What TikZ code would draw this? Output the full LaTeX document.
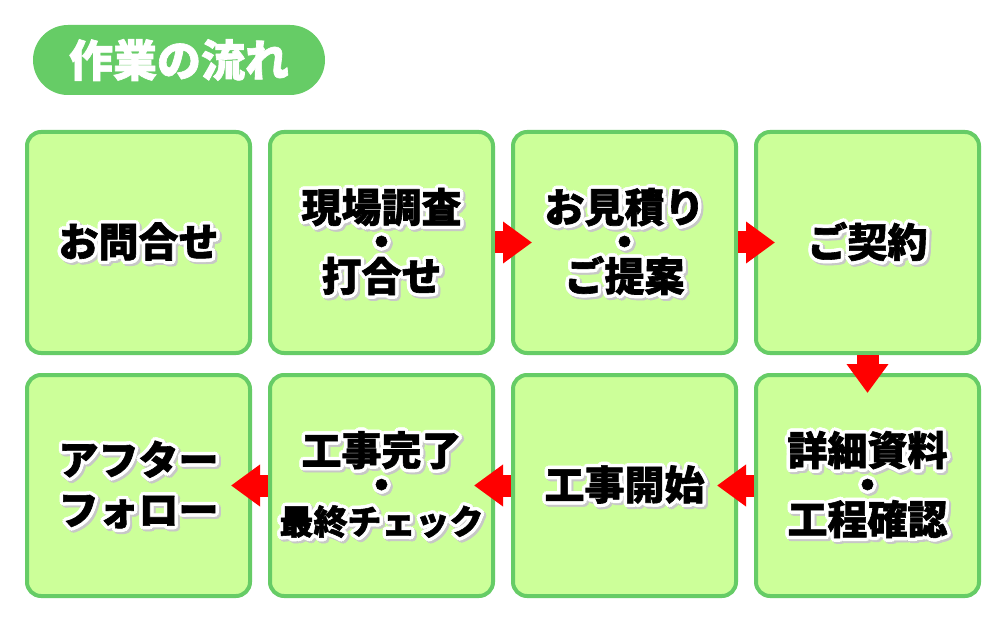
\documentclass[tikz,border=0pt]{standalone}
\usepackage{fontspec}
\usetikzlibrary{arrows.meta}
\newfontfamily\jp{Noto Sans CJK JP}[BoldFeatures={FakeBold=1.5}]
\definecolor{boxgreen}{HTML}{CCFF99}
\definecolor{linegreen}{HTML}{66CC66}
\definecolor{arrowred}{HTML}{FF0000}
\lineskiplimit=-100pt

% black text with a white rim and a soft shadow
\newcommand\halo[1]{%
  \leavevmode
  \foreach \hx/\hy in {5.5/-2,5.03/-0.25,3.75/1.03,2/1.5,0.25/1.03,-1.03/-0.25,-1.5/-2,-1.03/-3.75,0.25/-5.03,2/-5.5,3.75/-5.03,5.03/-3.75}{%
    \hbox to 0pt{\kern\hx pt\raise\hy pt\hbox{\color{black!22}#1}\hss}}%
  \foreach \hx/\hy in {3.5/0,3.03/1.75,1.75/3.03,0/3.5,-1.75/3.03,-3.03/1.75,-3.5/0,-3.03/-1.75,-1.75/-3.03,0/-3.5,1.75/-3.03,3.03/-1.75}{%
    \hbox to 0pt{\kern\hx pt\raise\hy pt\hbox{\color{white}#1}\hss}}%
  #1}

\tikzset{
  stepbox/.style={draw=linegreen, line width=4pt, fill=boxgreen, rounded corners=14pt,
    minimum width=223pt, minimum height=221pt, align=center,
    font=\jp\bfseries\fontsize{40}{34.5}\selectfont},
  titlebox/.style={fill=linegreen, rounded corners=35pt, minimum width=292pt,
    minimum height=70pt, text=white, font=\jp\bfseries\fontsize{44}{44}\selectfont},
  flow/.style={draw=arrowred, line width=22pt, -{Triangle[length=29pt,width=40pt]}},
}

\begin{document}
\begin{tikzpicture}[x=1pt,y=-1pt]
  \path[use as bounding box, fill=white] (0,0) rectangle (1000,617);

  \node[titlebox] (title) at (179,60) {作業の流れ};

  % top row
  \node[stepbox] (inquiry) at (138.5,242.5) {\halo{お問合せ}};
  \node[stepbox] (survey) at (381.5,242.5) {\halo{現場調査}\\\halo{・}\\\halo{打合せ}};
  \node[stepbox] (quote) at (624.5,242.5) {\halo{お見積り}\\\halo{・}\\\halo{ご提案}};
  \node[stepbox] (contract) at (867.5,242.5) {\halo{ご契約}};

  % bottom row
  \node[stepbox] (detail) at (867.5,485.5) {\halo{詳細資料}\\\halo{・}\\\halo{工程確認}};
  \node[stepbox] (start) at (624.5,485.5) {\halo{工事開始}};
  \node[stepbox] (finish) at (381.5,485.5) {\halo{工事完了}\\\halo{・}\\{\fontsize{34}{34.5}\selectfont\halo{最終チェック}}};
  \node[stepbox] (after) at (138.5,485.5) {\halo{アフター}\\[15.5pt]\halo{フォロー}};

  \draw[flow] (survey.east) -- ([xshift=21pt]quote.west);
  \draw[flow] (quote.east) -- ([xshift=21pt]contract.west);
  \draw[flow] (contract.south) -- ([yshift=-20pt]detail.north);
  \draw[flow] (detail.west) -- ([xshift=-21pt]start.east);
  \draw[flow] (start.west) -- ([xshift=-21pt]finish.east);
  \draw[flow] (finish.west) -- ([xshift=-21pt]after.east);
\end{tikzpicture}
\end{document}
